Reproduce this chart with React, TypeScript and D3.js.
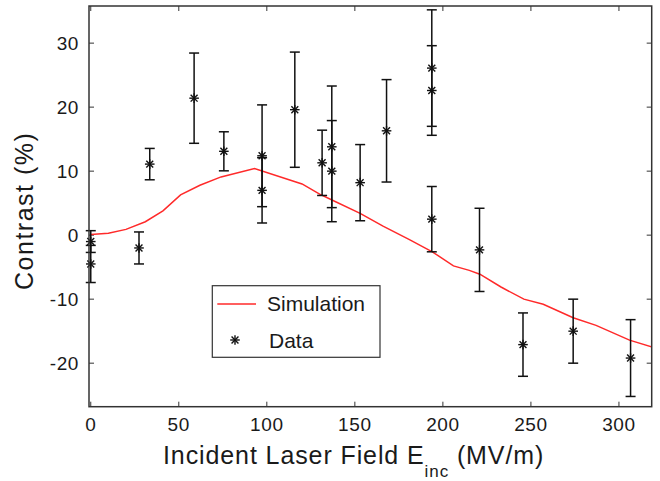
import React from "react";
import * as d3 from "d3";

const simX = [0, 10, 20, 31, 41, 51, 62, 74, 93, 120, 130, 137, 153, 166, 181, 194, 206, 215, 221, 233, 246, 257, 274, 287, 306, 319];
const simY = [0.1, 0.3, 0.9, 2.1, 3.8, 6.3, 7.8, 9.1, 10.4, 8.0, 6.4, 5.5, 3.4, 1.4, -0.7, -2.6, -4.8, -5.5, -6.1, -8.1, -10.0, -10.8, -12.9, -14.1, -16.4, -17.5];

const dataX = [0, 0, 27.4, 33.5, 58.7, 75.6, 97.3, 97.3, 115.9, 131.4, 136.9, 136.9, 153, 168, 193.7, 193.7, 193.7, 220.8, 245.5, 274, 306.6];
const dataY = [-1.0, -4.5, -2.0, 11.1, 21.4, 13.1, 12.4, 7.0, 19.6, 11.3, 13.8, 10.0, 8.2, 16.3, 26.1, 22.6, 2.5, -2.3, -17.1, -15.0, -19.2];
const dataErr = [1.7, 2.9, 2.5, 2.45, 7.05, 3.05, 7.95, 5.1, 9.0, 5.1, 9.5, 7.9, 5.95, 8.0, 9.1, 7.0, 5.1, 6.5, 4.95, 5.0, 6.0];

const xTicks = [0, 50, 100, 150, 200, 250, 300];
const yTicks = [-20, -10, 0, 10, 20, 30];

const W = 660, H = 481;
const L = 89, R = 651.7, T = 6, B = 406.7;
const FONT = "'Liberation Sans', Arial, Helvetica, sans-serif";

function Star({ cx, cy, r }: { cx: number; cy: number; r: number }) {
  const d = r * 0.72;
  return (
    <g stroke="#111" strokeWidth={1.4}>
      <line x1={cx - r} y1={cy} x2={cx + r} y2={cy} />
      <line x1={cx} y1={cy - r} x2={cx} y2={cy + r} />
      <line x1={cx - d} y1={cy - d} x2={cx + d} y2={cy + d} />
      <line x1={cx - d} y1={cy + d} x2={cx + d} y2={cy - d} />
    </g>
  );
}

export default function App() {
  const x = d3.scaleLinear().domain([-1, 318.6]).range([L, R]);
  const y = d3.scaleLinear().domain([-26.8, 35.8]).range([B, T]);
  const line = d3
    .line<number>()
    .x((_, i) => x(simX[i]))
    .y((v) => y(v));
  const tick = 5;
  const axisColor = "#333";
  return (
    <svg width={W} height={H} style={{ position: "absolute", left: 0, top: 0, background: "#fff" }} fontFamily={FONT}>
      <rect x={0} y={0} width={W} height={H} fill="#fff" />
      <defs>
        <clipPath id="plot">
          <rect x={L} y={T} width={R - L} height={B - T} />
        </clipPath>
      </defs>
      {/* ticks */}
      <g stroke={axisColor} strokeWidth={1}>
        {xTicks.map((t) => (
          <g key={"xt" + t}>
            <line x1={x(t)} x2={x(t)} y1={B} y2={B - tick} />
            <line x1={x(t)} x2={x(t)} y1={T} y2={T + tick} />
          </g>
        ))}
        {yTicks.map((t) => (
          <g key={"yt" + t}>
            <line x1={L} x2={L + tick} y1={y(t)} y2={y(t)} />
            <line x1={R} x2={R - tick} y1={y(t)} y2={y(t)} />
          </g>
        ))}
      </g>
      {/* simulation */}
      <path d={line(simY) || ""} fill="none" stroke="#ff2a2a" strokeWidth={1.5} clipPath="url(#plot)" />
      {/* data */}
      <g stroke="#111" strokeWidth={1.5}>
        {dataX.map((dx, i) => {
          const cx = x(dx);
          const y1 = y(dataY[i] + dataErr[i]);
          const y2 = y(dataY[i] - dataErr[i]);
          return (
            <g key={"e" + i}>
              <line x1={cx} x2={cx} y1={y1} y2={y2} />
              <line x1={cx - 5} x2={cx + 5} y1={y1} y2={y1} />
              <line x1={cx - 5} x2={cx + 5} y1={y2} y2={y2} />
            </g>
          );
        })}
      </g>
      {dataX.map((dx, i) => (
        <Star key={"s" + i} cx={x(dx)} cy={y(dataY[i])} r={4.8} />
      ))}
      {/* frame */}
      <rect x={L} y={T} width={R - L} height={B - T} fill="none" stroke={axisColor} strokeWidth={1.5} />
      {/* tick labels */}
      <g fontSize={19} fill="#1a1a1a" letterSpacing={0.6}>
        {xTicks.map((t) => (
          <text key={"xl" + t} x={x(t)} y={431} textAnchor="middle">
            {t}
          </text>
        ))}
        {yTicks.map((t) => (
          <text key={"yl" + t} x={79} y={y(t)} textAnchor="end" dominantBaseline="central">
            {t}
          </text>
        ))}
      </g>
      {/* axis titles */}
      <text x={163} y={464.3} fontSize={25} fill="#1a1a1a" letterSpacing={0.9}>
        Incident Laser Field E
        <tspan fontSize={17} dy={13}>inc</tspan>
        <tspan dy={-13}> (MV/m)</tspan>
      </text>
      <text
        transform={`translate(33, ${210.8}) rotate(-90)`}
        fontSize={25}
        textAnchor="middle"
        fill="#1a1a1a"
        letterSpacing={1.5}
      >
        Contrast (%)
      </text>
      {/* legend */}
      <rect x={212.3} y={285.7} width={167.7} height={71.6} fill="#fff" stroke={axisColor} strokeWidth={1.2} />
      <line x1={217.3} x2={256} y1={304} y2={304} stroke="#ff2a2a" strokeWidth={1.5} />
      <text x={267} y={311} fontSize={21} fill="#1a1a1a">Simulation</text>
      <Star cx={235} cy={340} r={4.8} />
      <text x={269} y={347.5} fontSize={21} fill="#1a1a1a">Data</text>
    </svg>
  );
}
